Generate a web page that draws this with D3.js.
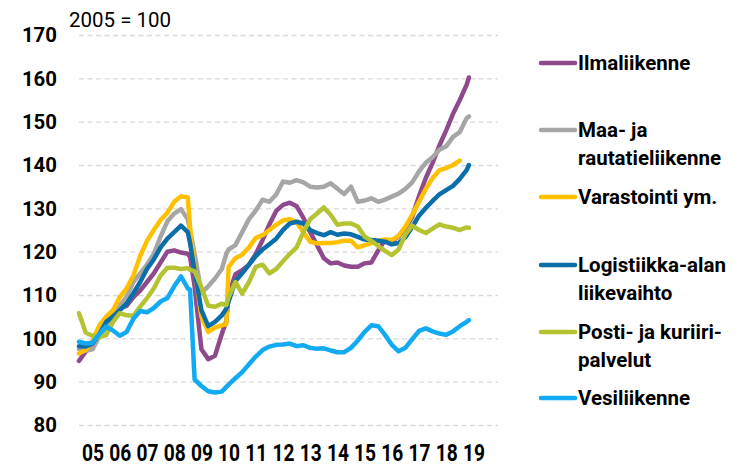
<!DOCTYPE html>
<html>
<head>
<meta charset="utf-8">
<script src="https://cdn.jsdelivr.net/npm/d3@7"></script>
<style>
  body { margin: 0; background: #fff; }
  svg text { font-family: Roboto, "DejaVu Sans", sans-serif; fill: #000; }
</style>
</head>
<body>
<div id="chart"></div>
<script>
// sample months (quarterly, plus a few extra months around the sharp moves)
const months = [
  "2005-01","2005-04","2005-07","2005-10",
  "2006-01","2006-04","2006-07","2006-10",
  "2007-01","2007-04","2007-07","2007-10",
  "2008-01","2008-04","2008-07","2008-10",
  "2009-01","2009-02","2009-04","2009-07","2009-10",
  "2010-01","2010-04","2010-06","2010-07","2010-10",
  "2011-01","2011-04","2011-07","2011-10",
  "2012-01","2012-04","2012-07","2012-10",
  "2013-01","2013-04","2013-07","2013-10",
  "2014-01","2014-04","2014-07","2014-10",
  "2015-01","2015-04","2015-07","2015-10",
  "2016-01","2016-04","2016-07","2016-10",
  "2017-01","2017-04","2017-07","2017-10",
  "2018-01","2018-04","2018-07","2018-10",
  "2019-01","2019-04","2019-05"
];

const ilmaliikenne = [
  94.8, 97.0, 98.0, 101.0,
  104.0, 106.0, 107.0, 107.5,
  109.5, 111.0, 113.0, 115.0,
  117.5, 120.0, 120.3, 119.8,
  119.5, 118.8, 112.0, 97.5, 95.2,
  96.0, 101.0, 104.0, 110.0, 114.8,
  115.7, 117.0, 119.5, 122.7,
  126.3, 129.4, 130.8, 131.3,
  130.5, 127.8, 124.5, 121.5,
  118.5, 117.3, 117.5, 116.8,
  116.5, 116.5, 117.3, 117.5,
  120.3, 122.7, 122.5, 123.5,
  125.5, 128.0, 132.8, 137.0,
  140.5, 144.5, 148.0, 151.8,
  155.0, 158.5, 160.2
];

const maaJaRautatie = [
  97.5, 97.2, 97.5, 100.5,
  102.5, 105.0, 107.5, 109.6,
  113.0, 115.0, 117.0, 119.5,
  123.5, 127.0, 128.8, 129.8,
  127.5, 125.0, 119.5, 110.5, 112.0,
  113.8, 116.0, 119.5, 120.5, 121.5,
  124.5, 127.5, 129.5, 132.0,
  131.5, 133.2, 136.2, 135.9,
  136.5, 136.0, 135.0, 134.8,
  135.0, 135.8, 134.5, 133.3,
  135.0, 131.5, 131.8, 132.3,
  131.5, 132.0, 132.7, 133.4,
  134.5, 136.0, 138.5, 140.5,
  141.8, 143.5, 144.3, 146.5,
  147.6, 150.8, 151.2
];

const varastointi = [
  96.5, 97.3, 99.5, 103.0,
  105.0, 106.5, 109.5, 111.5,
  114.5, 119.0, 122.5, 125.0,
  127.3, 129.0, 131.5, 132.8,
  132.5, 125.5, 116.0, 105.0, 101.5,
  102.5, 103.0, 103.3, 116.5, 118.5,
  119.3, 121.0, 123.2, 123.8,
  125.0, 126.2, 127.2, 127.5,
  126.8, 124.5, 122.3, 121.9,
  122.0, 122.0, 122.2, 122.5,
  122.5, 121.0, 121.5, 122.0,
  122.5, 122.8, 122.7, 123.6,
  125.8, 128.5, 131.5, 134.5,
  137.0, 138.8, 139.3, 140.0,
  141.0, null, null
];

const logistiikka = [
  98.2, 98.1, 98.8, 101.0,
  103.8, 105.0, 106.5, 108.0,
  110.4, 113.0, 116.0, 118.2,
  121.0, 123.0, 124.5, 126.0,
  124.5, 122.0, 115.5, 106.5, 102.8,
  103.8, 105.3, 106.8, 108.5, 113.2,
  115.0, 117.0, 119.0, 120.5,
  121.7, 123.0, 125.0, 126.5,
  126.9, 126.5, 125.0, 124.3,
  123.8, 124.5, 123.9, 124.2,
  124.0, 123.4, 122.8, 122.7,
  122.5, 122.3, 121.7, 122.0,
  123.3, 125.7, 128.3, 130.1,
  131.7, 133.2, 134.2, 135.2,
  136.8, 138.8, 140.0
];

const posti = [
  105.8, 101.3, 100.6, 100.2,
  100.8, 103.8, 105.8, 105.3,
  105.2, 107.3, 109.3, 111.5,
  114.5, 116.3, 116.3, 116.0,
  116.2, 115.8, 115.5, 111.8, 107.5,
  107.3, 108.0, 107.7, 109.5, 113.0,
  110.3, 113.0, 116.5, 117.0,
  115.0, 116.0, 117.8, 119.5,
  121.0, 124.5, 127.5, 128.8,
  130.2, 128.5, 126.2, 126.5,
  126.5, 125.8, 123.5, 122.5,
  121.3, 120.2, 119.2, 120.5,
  124.0, 126.0, 125.0, 124.3,
  125.3, 126.3, 125.8, 125.5,
  125.0, 125.6, 125.5
];

const vesiliikenne = [
  99.2, 98.8, 99.0, 101.0,
  102.7, 101.8, 100.6, 101.5,
  104.5, 106.3, 106.0, 107.0,
  108.5, 109.3, 112.0, 114.3,
  111.5, 111.2, 90.5, 89.0, 87.8,
  87.5, 87.7, 88.8, 89.3, 90.8,
  92.2, 94.0, 95.8, 97.3,
  98.1, 98.5, 98.6, 98.8,
  98.2, 98.4, 97.8, 97.6,
  97.7, 97.2, 96.8, 96.8,
  97.8, 99.5, 101.5, 103.0,
  102.8, 100.8, 98.5, 97.0,
  97.8, 99.8, 101.7, 102.3,
  101.6, 101.1, 100.8, 101.6,
  102.8, 103.8, 104.2
];

const years = d3.range(2005, 2020);
const yTicks = [80, 90, 100, 110, 120, 130, 140, 150, 160, 170];

const series = [
  { name: ["Ilmaliikenne"], values: ilmaliikenne, color: "#8e4a8c", ly: 63 },
  { name: ["Maa- ja", "rautatieliikenne"], values: maaJaRautatie, color: "#a6a6a6", ly: 130 },
  { name: ["Varastointi ym."], values: varastointi, color: "#ffc000", ly: 197 },
  { name: ["Logistiikka-alan", "liikevaihto"], values: logistiikka, color: "#0a6ea8", ly: 265 },
  { name: ["Posti- ja kuriiri-", "palvelut"], values: posti, color: "#b5c332", ly: 332 },
  { name: ["Vesiliikenne"], values: vesiliikenne, color: "#12aaf2", ly: 398 }
];

const width = 742, height = 467;
const plot = { left: 79, right: 498, top: 35, bottom: 425 };

const toYear = s => { const [y, m] = s.split("-").map(Number); return y + (m - 1) / 12; };

const x = d3.scaleLinear([2005, 2005 + 419 / 27.2], [plot.left, plot.right]);
const y = d3.scaleLinear([80, 170], [plot.bottom, plot.top]);

const svg = d3.select("#chart").append("svg")
    .attr("width", width)
    .attr("height", height);

// gridlines
svg.append("g")
    .attr("transform", `translate(${plot.left},0)`)
    .call(d3.axisLeft(y).tickValues(yTicks).tickSize(-(plot.right - plot.left)).tickFormat(""))
    .call(g => g.select(".domain").remove())
    .call(g => g.selectAll("line")
        .attr("stroke", "#d9d9d9")
        .attr("stroke-width", 1.3)
        .attr("stroke-dasharray", "5,3.5"));

// y labels
svg.append("g")
    .attr("transform", `translate(57,0)`)
    .call(d3.axisLeft(y).tickValues(yTicks).tickSize(0).tickPadding(0))
    .call(g => g.select(".domain").remove())
    .call(g => g.selectAll("text")
        .attr("font-size", 21)
        .attr("font-weight", 700)
        .attr("fill", "#000")
        .attr("textLength", d => String(d).length * 11.7)
        .attr("lengthAdjust", "spacingAndGlyphs"));

// x labels, centred in each year
svg.append("g")
    .attr("transform", `translate(0,445)`)
    .call(d3.axisBottom(x).tickValues(years.map(d => d + 0.5)).tickSize(0).tickPadding(0)
        .tickFormat(d => String(Math.floor(d)).slice(2)))
    .call(g => g.select(".domain").remove())
    .call(g => g.selectAll("text")
        .attr("font-size", 23)
        .attr("font-weight", 700)
        .attr("fill", "#000")
        .attr("textLength", 22)
        .attr("lengthAdjust", "spacingAndGlyphs"));

svg.append("text")
    .attr("x", 69)
    .attr("y", 27)
    .attr("font-size", 20.5)
    .text("2005 = 100");

const line = d3.line()
    .defined(d => d[1] != null)
    .x(d => x(toYear(d[0])))
    .y(d => y(d[1]));

svg.append("g")
    .selectAll("path")
    .data(series)
    .join("path")
        .attr("d", s => line(months.map((m, i) => [m, s.values[i]])))
        .attr("fill", "none")
        .attr("stroke", s => s.color)
        .attr("stroke-width", 4.5)
        .attr("stroke-linejoin", "round")
        .attr("stroke-linecap", "round");

// legend
const legend = svg.append("g").selectAll("g")
    .data(series)
    .join("g")
        .attr("transform", s => `translate(541,${s.ly})`);

legend.append("line")
    .attr("x1", 0).attr("x2", 34)
    .attr("stroke", s => s.color)
    .attr("stroke-width", 4.5)
    .attr("stroke-linecap", "round");

legend.append("text")
    .attr("x", 37)
    .attr("font-size", 20.5)
    .attr("font-weight", 700)
    .selectAll("tspan")
    .data(s => s.name)
    .join("tspan")
        .attr("x", 37)
        .attr("y", (d, i) => 7 + i * 28)
        .text(d => d);
</script>
</body>
</html>
